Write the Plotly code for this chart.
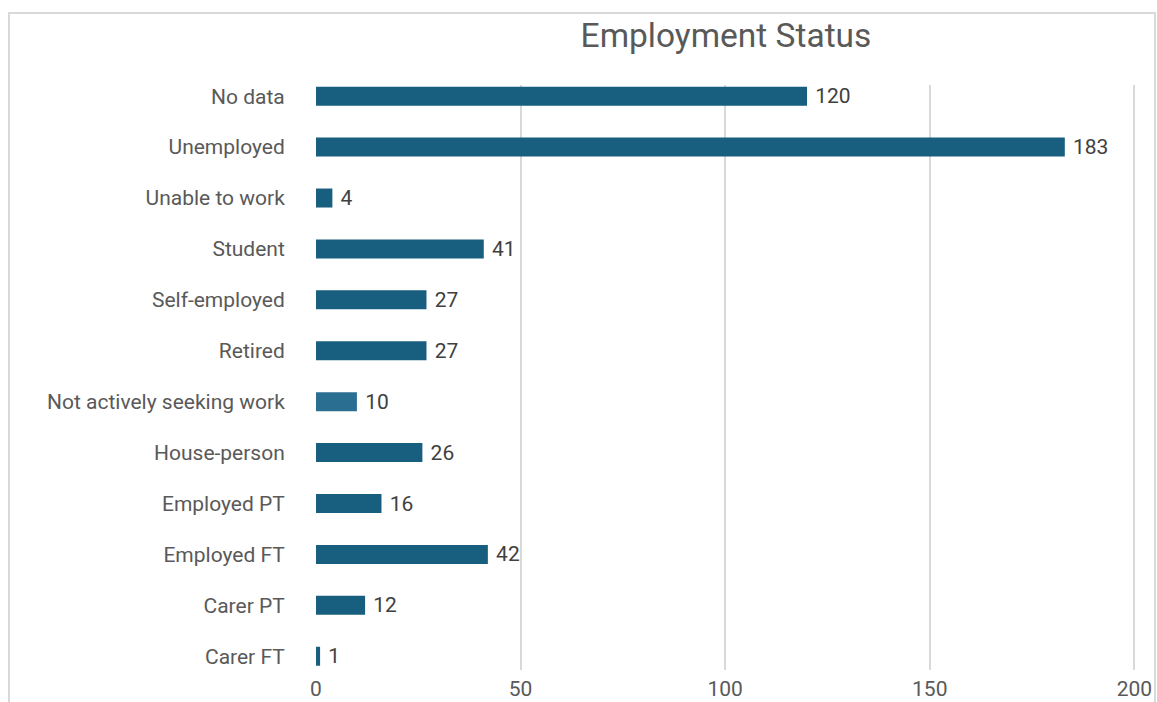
import plotly.graph_objects as go

# Employment status counts (bottom to top as drawn)
categories = [
    "Carer FT", "Carer PT", "Employed FT", "Employed PT", "House-person",
    "Not actively seeking work", "Retired", "Self-employed", "Student",
    "Unable to work", "Unemployed", "No data",
]
counts = [1, 12, 42, 16, 26, 10, 27, 27, 41, 4, 183, 120]
x_ticks = [0, 50, 100, 150, 200]

BAR = "#175e7f"
BAR_LIGHT = "#2a6f91"
colors = [BAR_LIGHT if c == "Not actively seeking work" else BAR for c in categories]

FONT = "Roboto"
LABEL_SIZE = 21

fig = go.Figure(
    go.Bar(
        x=counts,
        y=categories,
        orientation="h",
        marker=dict(color=colors, line=dict(width=0)),
        text=[f" {v}" for v in counts],
        textposition="outside",
        constraintext="none",
        textfont=dict(family=FONT, size=LABEL_SIZE, color="#404040"),
        outsidetextfont=dict(family=FONT, size=LABEL_SIZE, color="#404040"),
        cliponaxis=False,
        hoverinfo="x+y",
    )
)

fig.update_layout(
    width=1157,
    height=702,
    paper_bgcolor="white",
    plot_bgcolor="white",
    margin=dict(l=316, r=21, t=85, b=32, autoexpand=False),
    bargap=0.627,
    showlegend=False,
    title=dict(
        text="Employment Status",
        font=dict(family=FONT, size=33.5, color="#595959"),
        x=726 / 1157,
        xanchor="center",
        xref="container",
        y=1 - 35 / 702,
        yanchor="middle",
        yref="container",
        automargin=False,
    ),
    xaxis=dict(
        range=[0, 200.4],
        tickvals=x_ticks,
        showgrid=True,
        gridcolor="#d9d9d9",
        gridwidth=2,
        zeroline=False,
        showline=False,
        ticks="",
        ticklabelstandoff=4,
        tickfont=dict(family=FONT, size=LABEL_SIZE, color="#595959"),
        automargin=False,
        fixedrange=True,
    ),
    yaxis=dict(
        type="category",
        categoryorder="array",
        categoryarray=categories,
        range=[-0.27, 11.22],
        showgrid=False,
        zeroline=False,
        showline=False,
        ticks="outside",
        ticklen=26,
        tickcolor="rgba(0,0,0,0)",
        tickfont=dict(family=FONT, size=LABEL_SIZE, color="#595959"),
        automargin=False,
        fixedrange=True,
    ),
    shapes=[
        dict(
            type="rect",
            xref="paper",
            yref="paper",
            x0=(9 - 316) / 820,
            x1=(1155 - 316) / 820,
            y0=-0.2,
            y1=1 + (85 - 13) / 585,
            line=dict(color="#d9d9d9", width=2),
            fillcolor="rgba(0,0,0,0)",
            layer="below",
        )
    ],
)

fig.write_html("out.html")
